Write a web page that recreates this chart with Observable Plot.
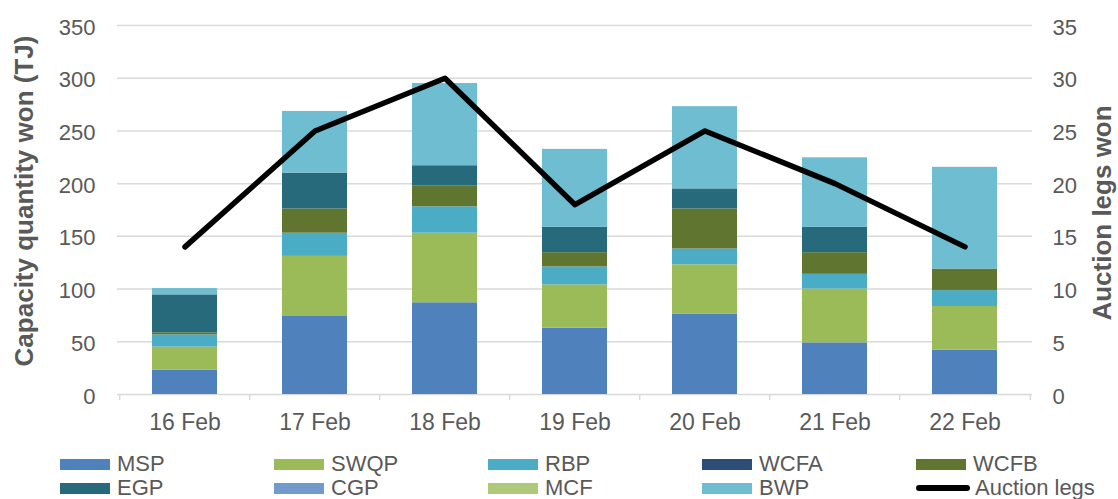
<!DOCTYPE html>
<html>
<head>
<meta charset="utf-8">
<script src="https://cdn.jsdelivr.net/npm/d3@7"></script>
<script src="https://cdn.jsdelivr.net/npm/@observablehq/plot@0.6"></script>
<style>
  html, body { margin: 0; padding: 0; background: #fff; }
  body { width: 1118px; height: 499px; overflow: hidden; font-family: "Liberation Sans", Arial, sans-serif; }
  #legend { display: grid; grid-template-columns: repeat(5, 214px); padding-left: 60px; padding-top: 7px; color: #595959; font-size: 22px; }
  .item { display: flex; align-items: center; height: 24px; white-space: nowrap; }
  .sw { width: 50px; height: 11px; margin-right: 7px; flex: none; }
  .ln { width: 54px; height: 6px; border-radius: 3px; background: #000; margin-right: 5px; flex: none; }
</style>
</head>
<body>
<div id="chart"></div>
<div id="legend"></div>
<script>
const dates = ["16 Feb", "17 Feb", "18 Feb", "19 Feb", "20 Feb", "21 Feb", "22 Feb"];
const seriesNames = ["MSP", "SWQP", "RBP", "WCFA", "WCFB", "EGP", "CGP", "MCF", "BWP"];
const seriesColors = ["#4f81bd", "#9bbb59", "#4bacc6", "#2c4d75", "#5f7530", "#276a7c", "#729aca", "#afc97a", "#6fbdd1"];
const MSP  = [23, 74, 87, 63, 76, 49, 42];
const SWQP = [22, 57, 66, 41, 47, 51, 41.5];
const RBP  = [11.5, 22, 25, 17, 15, 14, 15];
const WCFA = [0, 0, 0, 0, 0, 0, 0];
const WCFB = [2, 23, 20, 13.5, 38, 20.5, 20.5];
const EGP  = [36, 34, 19, 24, 19, 24, 0];
const CGP  = [0, 0, 0, 0, 0, 0, 0];
const MCF  = [0, 0, 0, 0, 0, 0, 0];
const BWP  = [6, 58.5, 78, 74, 78, 66, 96.5];
const auctionLegs = [14, 25, 30, 18, 25, 20, 14];
const leftTicks = [0, 50, 100, 150, 200, 250, 300, 350];
const rightTicks = [0, 5, 10, 15, 20, 25, 30, 35];
const ratio = 10; // right axis (legs) to left axis (TJ)

const seriesValues = {MSP, SWQP, RBP, WCFA, WCFB, EGP, CGP, MCF, BWP};
const bars = [];
seriesNames.forEach(s => dates.forEach((d, i) => bars.push({date: d, series: s, value: seriesValues[s][i]})));
const legs = dates.map((d, i) => ({date: d, legs: auctionLegs[i]}));

const grey = "#595959";
const font = "Liberation Sans, Arial, sans-serif";
const W = 1118, H = 445, mL = 117, mR = 86, mT = 25, mB = 51;
const step = (W - mL - mR) / dates.length;
const frameH = H - mT - mB;

const chart = Plot.plot({
  width: W, height: H,
  marginLeft: mL, marginRight: mR, marginTop: mT, marginBottom: mB,
  style: {fontFamily: font, fontSize: "22px", color: grey, background: "#fff"},
  x: {domain: dates, paddingInner: 0.5, paddingOuter: 0.25, axis: null},
  y: {domain: [0, 350], axis: null},
  color: {domain: seriesNames, range: seriesColors},
  marks: [
    Plot.gridY(leftTicks, {stroke: "#d9d9d9", strokeOpacity: 1, strokeWidth: 1.5}),
    Plot.ruleX(dates, {x: d => d, dx: -step / 2, insetTop: frameH - 6, dy: 6, stroke: "#d9d9d9", strokeWidth: 1.5}),
    Plot.ruleX([dates[dates.length - 1]], {x: d => d, dx: step / 2, insetTop: frameH - 6, dy: 6, stroke: "#d9d9d9", strokeWidth: 1.5}),
    Plot.barY(bars, {x: "date", y: "value", fill: "series"}),
    Plot.line(legs, {x: "date", y: d => d.legs * ratio, stroke: "#000", strokeWidth: 5.5, strokeLinejoin: "round", strokeLinecap: "round"}),
    Plot.axisX({tickSize: 0, tickPadding: 19, fontSize: 23, fill: grey, label: null}),
    Plot.axisY(leftTicks, {anchor: "left", tickSize: 0, tickPadding: 22, dy: 2, fontSize: 22, fill: grey, label: null}),
    Plot.axisY(rightTicks.map(t => t * ratio), {anchor: "right", tickSize: 0, tickPadding: 20, dy: 2, fontSize: 22, fill: grey, textAnchor: "start", tickFormat: d => d / ratio, label: null}),
    Plot.text(["Capacity quantity won (TJ)"], {frameAnchor: "left", textAnchor: "middle", rotate: -90, dx: -93, dy: -9, fontWeight: "bold", fontSize: 26, fill: grey}),
    Plot.text(["Auction legs won"], {frameAnchor: "right", textAnchor: "middle", rotate: -90, dx: 70, dy: 3, fontWeight: "bold", fontSize: 26, fill: grey})
  ]
});
document.getElementById("chart").appendChild(chart);

const legend = document.getElementById("legend");
seriesNames.forEach((s, i) => {
  const it = document.createElement("div");
  it.className = "item";
  it.innerHTML = `<span class="sw" style="background:${seriesColors[i]}"></span><span>${s}</span>`;
  legend.appendChild(it);
});
const li = document.createElement("div");
li.className = "item";
li.innerHTML = `<span class="ln"></span><span>Auction legs</span>`;
legend.appendChild(li);
</script>
</body>
</html>
